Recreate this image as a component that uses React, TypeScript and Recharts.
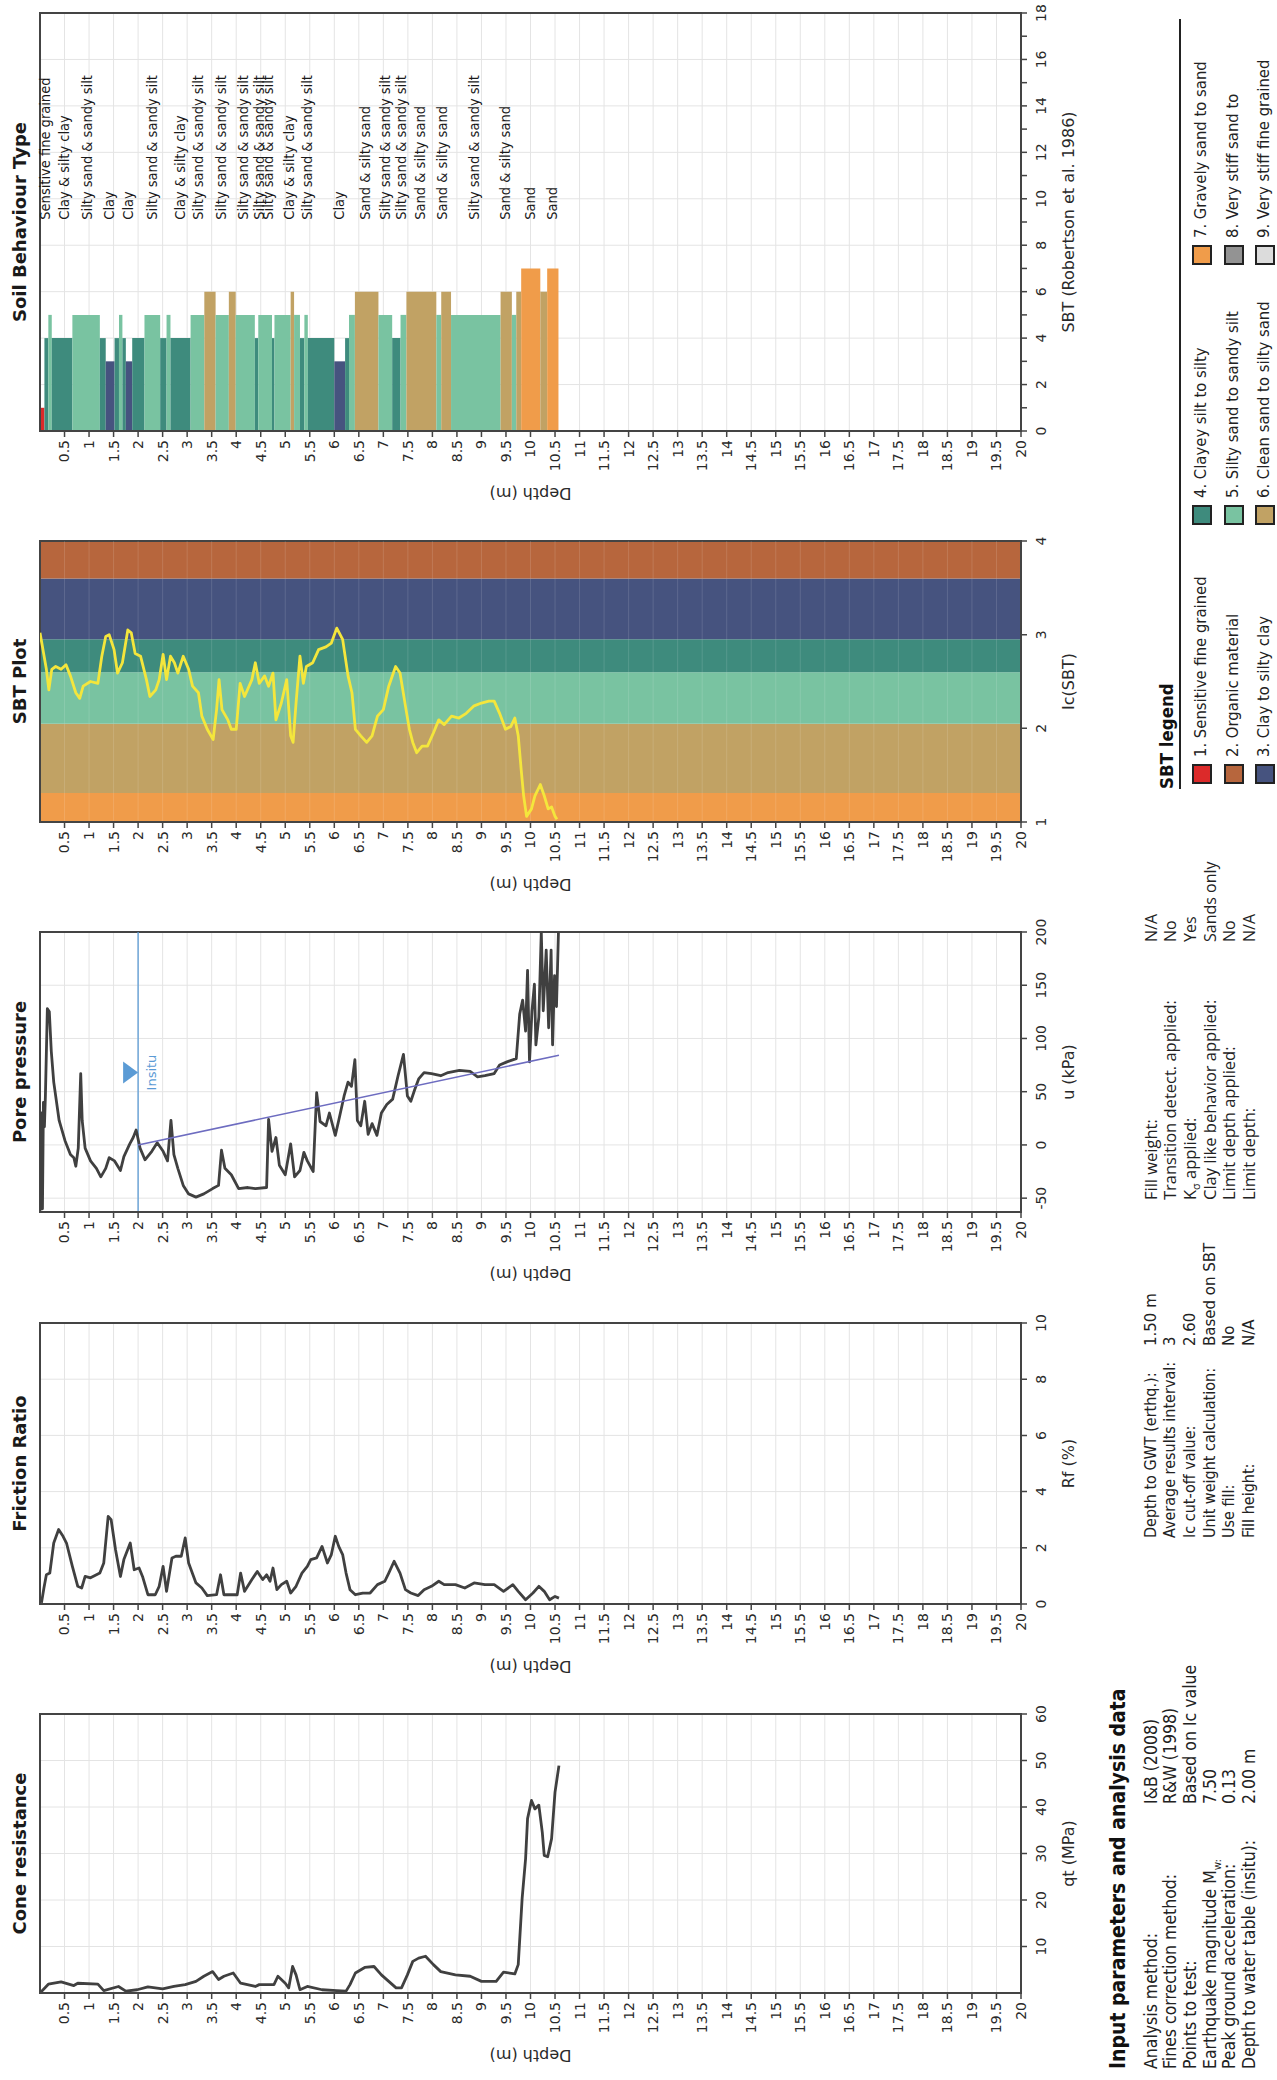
import React from 'react';
import {
  LineChart,
  Line,
  XAxis,
  YAxis,
  CartesianGrid,
  ReferenceArea,
  ReferenceLine,
  ReferenceDot,
} from 'recharts';

// ---------------- DATA ----------------
const depthTicks = [0.5, 1, 1.5, 2, 2.5, 3, 3.5, 4, 4.5, 5, 5.5, 6, 6.5, 7, 7.5, 8, 8.5, 9, 9.5, 10, 10.5, 11, 11.5, 12, 12.5, 13, 13.5, 14, 14.5, 15, 15.5, 16, 16.5, 17, 17.5, 18, 18.5, 19, 19.5, 20];

// Cone resistance qt (MPa)
const coneDepth = [0, 0.17, 0.43, 0.69, 0.77, 1.18, 1.3, 1.6, 1.75, 1.98,
  2.2, 2.5, 2.73, 2.96, 3.18, 3.34, 3.52, 3.64, 3.75, 3.94,
  4.09, 4.39, 4.47, 4.77, 4.85, 5.0, 5.07, 5.15, 5.22, 5.3,
  5.45, 5.75, 6.05, 6.24, 6.32, 6.43, 6.62, 6.81, 6.96, 7.11,
  7.26, 7.37, 7.49, 7.6, 7.72, 7.86, 8.02, 8.17, 8.47, 8.77,
  9.0, 9.3, 9.45, 9.68, 9.75, 9.83, 9.9, 9.94, 10.02, 10.09,
  10.17, 10.24, 10.28, 10.35, 10.43, 10.5, 10.58];
const coneQt = [0, 1.9, 2.4, 1.6, 2.1, 1.9, 0.5, 1.4, 0.4, 0.7,
  1.3, 0.9, 1.4, 1.8, 2.5, 3.6, 4.6, 2.9, 3.6, 4.3,
  2.1, 1.4, 1.8, 1.8, 3.6, 2.1, 1.1, 5.7, 3.9, 0.7,
  1.4, 0.7, 0.5, 0.4, 1.8, 4.3, 5.5, 5.7, 3.9, 2.5,
  1.1, 1.1, 3.9, 6.8, 7.5, 7.9, 6.1, 4.6, 3.9, 3.6,
  2.5, 2.5, 4.5, 4.1, 6.1, 20.4, 28.9, 37.5, 41.4, 39.6,
  40.4, 34.6, 29.6, 29.3, 33.2, 43.2, 48.9];

// Friction ratio Rf (%)
const frictionDepth = [0.03, 0.08, 0.13, 0.2, 0.28, 0.38, 0.47, 0.54, 0.66, 0.77,
  0.85, 0.92, 1.03, 1.22, 1.3, 1.39, 1.45, 1.54, 1.64, 1.71,
  1.84, 1.92, 2.02, 2.09, 2.2, 2.35, 2.43, 2.51, 2.58, 2.69,
  2.77, 2.88, 2.96, 3.03, 3.18, 3.3, 3.41, 3.6, 3.68, 3.75,
  4.02, 4.09, 4.17, 4.32, 4.43, 4.54, 4.62, 4.69, 4.75, 4.83,
  4.92, 5.03, 5.11, 5.22, 5.34, 5.45, 5.52, 5.64, 5.75, 5.86,
  5.94, 6.02, 6.09, 6.17, 6.24, 6.32, 6.43, 6.58, 6.73, 6.88,
  7.03, 7.11, 7.22, 7.34, 7.45, 7.56, 7.71, 7.83, 7.98, 8.13,
  8.24, 8.47, 8.66, 8.85, 9.07, 9.26, 9.45, 9.64, 9.75, 9.9,
  10.05, 10.17, 10.28, 10.39, 10.5, 10.58];
const frictionRf = [0.04, 0.57, 1.04, 1.1, 2.17, 2.65, 2.41, 2.17, 1.34, 0.63,
  0.57, 0.98, 0.93, 1.1, 1.46, 3.12, 3.0, 1.93, 0.98, 1.58,
  2.17, 1.22, 1.28, 0.98, 0.33, 0.33, 0.63, 1.34, 0.45, 1.64,
  1.7, 1.7, 2.35, 1.46, 0.75, 0.57, 0.3, 0.33, 1.04, 0.33,
  0.33, 1.1, 0.45, 0.87, 1.16, 0.87, 1.04, 0.81, 1.28, 0.51,
  0.69, 0.81, 0.39, 0.63, 1.1, 1.34, 1.58, 1.64, 2.05, 1.46,
  1.76, 2.41, 2.05, 1.76, 1.1, 0.51, 0.33, 0.39, 0.39, 0.69,
  0.81, 1.1, 1.52, 1.1, 0.51, 0.39, 0.3, 0.51, 0.63, 0.81,
  0.69, 0.69, 0.57, 0.75, 0.69, 0.69, 0.45, 0.69, 0.45, 0.15,
  0.39, 0.63, 0.45, 0.15, 0.27, 0.21];

// Pore pressure u (kPa)
const poreDepth = [0, 0.03, 0.05, 0.07, 0.09, 0.11, 0.15, 0.19, 0.23, 0.28,
  0.39, 0.51, 0.62, 0.69, 0.73, 0.78, 0.83, 0.86, 0.92, 1.03,
  1.15, 1.24, 1.34, 1.41, 1.52, 1.64, 1.71, 1.83, 1.9, 1.96,
  2.04, 2.14, 2.28, 2.39, 2.51, 2.6, 2.67, 2.73, 2.81, 2.92,
  3.03, 3.18, 3.34, 3.52, 3.64, 3.7, 3.77, 3.9, 4.05, 4.24,
  4.39, 4.62, 4.66, 4.73, 4.81, 4.88, 5.0, 5.11, 5.19, 5.3,
  5.38, 5.45, 5.57, 5.64, 5.71, 5.83, 5.9, 6.02, 6.09, 6.2,
  6.28, 6.35, 6.42, 6.47, 6.54, 6.62, 6.69, 6.77, 6.87, 6.96,
  7.07, 7.19, 7.3, 7.41, 7.49, 7.56, 7.64, 7.72, 7.83, 7.98,
  8.17, 8.32, 8.55, 8.77, 8.92, 9.07, 9.26, 9.37, 9.52, 9.71,
  9.78, 9.84, 9.9, 9.94, 9.98, 10.03, 10.08, 10.11, 10.17, 10.22,
  10.26, 10.32, 10.37, 10.42, 10.45, 10.49, 10.53, 10.57];
const poreU = [-63, 30, -60, 40, 17, 46, 128, 125, 88, 59,
  23, 4, -9, -12, -20, -3, 67, 23, -3, -15,
  -22, -30, -22, -12, -15, -24, -11, 1, 7, 14,
  -3, -14, -6, 2, -6, -15, 23, -9, -22, -38,
  -46, -49, -46, -41, -38, -5, -22, -28, -41, -40,
  -41, -40, 24, -6, 7, -19, -28, 1, -30, -24,
  -7, -15, -25, 49, 22, 18, 30, 9, 23, 46,
  59, 55, 80, 23, 18, 41, 10, 20, 9, 30,
  38, 43, 65, 85, 46, 41, 52, 62, 68, 67,
  65, 68, 70, 69, 64, 65, 67, 75, 78, 81,
  123, 136, 107, 164, 78, 126, 151, 94, 120, 200,
  126, 183, 110, 183, 94, 159, 130, 200];
const hydroDepth = [2.0, 10.58];
const hydroU = [0, 84.2];
const WATER_TABLE_DEPTH = 2.0;
const WATER_MARK_U = 68;

// SBT plot Ic
const icDepth = [0, 0.05, 0.13, 0.18, 0.24, 0.32, 0.43, 0.53, 0.62, 0.73,
  0.81, 0.88, 1.03, 1.18, 1.26, 1.34, 1.41, 1.51, 1.58, 1.68,
  1.79, 1.86, 1.94, 2.05, 2.17, 2.24, 2.36, 2.43, 2.51, 2.58,
  2.66, 2.74, 2.81, 2.92, 3.03, 3.11, 3.23, 3.3, 3.41, 3.53,
  3.6, 3.65, 3.71, 3.83, 3.9, 4.0, 4.08, 4.17, 4.32, 4.39,
  4.47, 4.58, 4.66, 4.75, 4.81, 4.92, 5.03, 5.11, 5.16, 5.22,
  5.3, 5.37, 5.43, 5.56, 5.68, 5.83, 5.94, 6.05, 6.17, 6.28,
  6.36, 6.43, 6.54, 6.66, 6.77, 6.88, 7.0, 7.11, 7.25, 7.34,
  7.45, 7.53, 7.6, 7.68, 7.79, 7.9, 8.02, 8.13, 8.24, 8.39,
  8.54, 8.69, 8.85, 9.0, 9.15, 9.26, 9.37, 9.49, 9.6, 9.68,
  9.75, 9.81, 9.86, 9.92, 10.02, 10.09, 10.2, 10.28, 10.36, 10.43,
  10.5, 10.54];
const icValue = [3.02, 2.87, 2.63, 2.41, 2.63, 2.66, 2.63, 2.68, 2.56, 2.38,
  2.32, 2.45, 2.5, 2.48, 2.77, 2.98, 3.0, 2.84, 2.59, 2.7,
  3.05, 3.02, 2.8, 2.77, 2.52, 2.34, 2.41, 2.52, 2.79, 2.52,
  2.77, 2.7, 2.59, 2.77, 2.63, 2.45, 2.38, 2.13, 1.99, 1.88,
  2.2, 2.52, 2.2, 2.09, 1.99, 1.99, 2.48, 2.34, 2.52, 2.7,
  2.48, 2.56, 2.45, 2.59, 2.09, 2.27, 2.52, 1.92, 1.85, 2.27,
  2.77, 2.48, 2.66, 2.7, 2.84, 2.87, 2.91, 3.07, 2.95, 2.56,
  2.38, 1.99, 1.92, 1.85, 1.92, 2.13, 2.2, 2.45, 2.66, 2.59,
  2.24, 1.99, 1.85, 1.74, 1.81, 1.81, 1.95, 2.09, 2.04, 2.13,
  2.11, 2.16, 2.24, 2.27, 2.29, 2.29, 2.16, 1.99, 2.02, 2.11,
  1.92, 1.56, 1.28, 1.06, 1.14, 1.28, 1.4, 1.28, 1.14, 1.16,
  1.06, 1.03];
const icBounds = [1, 1.31, 2.05, 2.6, 2.95, 3.6, 4];
const icBandZones = [7, 6, 5, 4, 3, 2];

// Soil behaviour type (Robertson 1986) layers
const sbtTop = [0, 0.09, 0.17, 0.24, 0.66, 1.22, 1.34, 1.52, 1.61, 1.68,
  1.75, 1.88, 2.13, 2.45, 2.58, 2.66, 3.07, 3.35, 3.58, 3.85,
  3.99, 4.38, 4.45, 4.73, 4.78, 5.11, 5.18, 5.3, 5.39, 5.46,
  6.0, 6.22, 6.3, 6.42, 6.9, 7.18, 7.35, 7.47, 8.08, 8.18,
  8.38, 9.39, 9.62, 9.71, 9.81, 10.2, 10.34];
const sbtZone = [1, 4, 5, 4, 5, 4, 3, 4, 5, 4,
  3, 4, 5, 4, 5, 4, 5, 6, 5, 6,
  5, 4, 5, 4, 5, 6, 5, 4, 5, 4,
  3, 4, 5, 6, 5, 4, 5, 6, 5, 6,
  5, 6, 5, 6, 7, 6, 7];
const SBT_END_DEPTH = 10.57;

const sbtLabelDepth = [0.11, 0.48, 0.96, 1.41, 1.79, 2.28, 2.85, 3.22, 3.68, 4.13,
  4.47, 4.65, 5.07, 5.45, 6.09, 6.62, 7.03, 7.37, 7.75, 8.2,
  8.85, 9.49, 9.98, 10.43];
const sbtLabelText = ['Sensitive fine grained', 'Clay & silty clay', 'Silty sand & sandy silt', 'Clay', 'Clay',
  'Silty sand & sandy silt', 'Clay & silty clay', 'Silty sand & sandy silt', 'Silty sand & sandy silt', 'Silty sand & sandy silt',
  'Silty sand & sandy silt', 'Silty sand & sandy silt', 'Clay & silty clay', 'Silty sand & sandy silt', 'Clay',
  'Sand & silty sand', 'Silty sand & sandy silt', 'Silty sand & sandy silt', 'Sand & silty sand', 'Sand & silty sand',
  'Silty sand & sandy silt', 'Sand & silty sand', 'Sand', 'Sand'];

const zoneColors = ['#dc2a2a', '#b7663d', '#46537f', '#3e8b7d', '#79c3a1', '#c1a264', '#f09c4a', '#939393', '#dcdcdc'];
const zoneNames = ['1. Sensitive fine grained', '2. Organic material', '3. Clay to silty clay',
  '4. Clayey silt to silty', '5. Silty sand to sandy silt', '6. Clean sand to silty sand',
  '7. Gravely sand to sand', '8. Very stiff sand to', '9. Very stiff fine grained'];

const coneTicks = [10, 20, 30, 40, 50, 60];
const frictionTicks = [0, 2, 4, 6, 8, 10];
const poreTicks = [-50, 0, 50, 100, 150, 200];
const icTicks = [1, 2, 3, 4];
const sbtTicks = [0, 1, 2, 3, 4, 5, 6, 7, 8, 9, 10, 11, 12, 13, 14, 15, 16, 17, 18];
const sbtGrid = [2, 4, 6, 8, 10, 12, 14, 16];

const params1 = [['Analysis method:', 'I&B (2008)'], ['Fines correction method:', 'R&W (1998)'], ['Points to test:', 'Based on Ic value'], ['Earthquake magnitude M_w:', '7.50'], ['Peak ground acceleration:', '0.13'], ['Depth to water table (insitu):', '2.00 m']];
const params2 = [['Depth to GWT (erthq.):', '1.50 m'], ['Average results interval:', '3'], ['Ic cut-off value:', '2.60'], ['Unit weight calculation:', 'Based on SBT'], ['Use fill:', 'No'], ['Fill height:', 'N/A']];
const params3 = [['Fill weight:', 'N/A'], ['Transition detect. applied:', 'No'], ['K_σ applied:', 'Yes'], ['Clay like behavior applied:', 'Sands only'], ['Limit depth applied:', 'No'], ['Limit depth:', 'N/A']];

// ---------------- LAYOUT ----------------
const PAGE_W = 2080;
const PAGE_H = 1277;
const PLOT_TOP = 40;
const PLOT_BOTTOM = 1021;
const CHART_H = 1100;
const AXIS_W = 120;
const RIGHT_PAD = 20;
const SANS = '"DejaVu Sans", Verdana, sans-serif';
const NARROW = '"Liberation Sans Narrow", "DejaVu Sans Condensed", "Arial Narrow", sans-serif';
const OPEN = '"Open Sans", "Noto Sans", sans-serif';

const zip = (ds: number[], vs: number[]) => ds.map((d, i) => ({ d, v: vs[i] }));

function Panel(props: any) {
  const { left, width, title, xDomain, xTicks, xLabel, tickFmt, gridX, children } = props;
  const w = AXIS_W + width + RIGHT_PAD;
  return (
    <div>
      <div style={{ position: 'absolute', left, top: 9, width, textAlign: 'center', fontFamily: SANS, fontWeight: 'bold', fontSize: 18, lineHeight: '22px', color: '#1a1a1a', whiteSpace: 'nowrap' }}>{title}</div>
      <div style={{ position: 'absolute', left: left - AXIS_W, top: 0 }}>
        <LineChart layout="vertical" width={w} height={CHART_H} margin={{ top: PLOT_TOP, right: RIGHT_PAD, bottom: 0, left: 0 }}>
          <CartesianGrid stroke="#e4e4e4" strokeWidth={1} verticalValues={gridX} />
          <XAxis
            type="number"
            domain={xDomain}
            ticks={xTicks}
            interval={0}
            allowDataOverflow
            height={CHART_H - PLOT_BOTTOM}
            tickSize={6}
            tickMargin={9}
            tickFormatter={tickFmt}
            tick={{ fontSize: 14, fill: '#2a2a2a', fontFamily: SANS }}
            tickLine={{ stroke: '#444', strokeWidth: 1.5 }}
            axisLine={{ stroke: '#444', strokeWidth: 2 }}
            label={{ value: xLabel, position: 'insideBottom', offset: 26, fontSize: 16, fill: '#2a2a2a', fontFamily: SANS }}
          />
          <YAxis
            type="number"
            dataKey="d"
            domain={[0, 20]}
            ticks={depthTicks}
            interval={0}
            allowDataOverflow
            width={AXIS_W}
            tickSize={6}
            tickMargin={3}
            tick={{ fontSize: 14, fill: '#2a2a2a', fontFamily: SANS }}
            tickLine={{ stroke: '#444', strokeWidth: 1.5 }}
            axisLine={{ stroke: '#444', strokeWidth: 2 }}
            label={{ value: 'Depth (m)', angle: -90, position: 'center', dx: -3, fontSize: 16, fill: '#2a2a2a', fontFamily: SANS }}
          />
          {children}
          <ReferenceArea x1={xDomain[0]} x2={xDomain[1]} y1={0} y2={20} fill="none" stroke="#444" strokeWidth={2} ifOverflow="visible" />
        </LineChart>
      </div>
    </div>
  );
}

function ParamRows({ rows, labelLeft, valueLeft, labelFont, valueFont, labelSize, valueSize }: any) {
  const rowY = [1151, 1170, 1190, 1210, 1229, 1249];
  return (
    <div>
      {rows.map((r: string[], i: number) => {
        const parts = r[0].split('_');
        return (
          <div key={i}>
            <div style={{ position: 'absolute', left: labelLeft, top: rowY[i] - 10, lineHeight: '20px', fontFamily: labelFont, fontSize: labelSize, color: '#222', whiteSpace: 'nowrap' }}>
              {parts.length > 1 ? (
                <span>{parts[0]}<sub style={{ fontSize: '0.65em' }}>{parts[1].split(' ')[0]}</sub>{parts[1].slice(parts[1].split(' ')[0].length)}</span>
              ) : r[0]}
            </div>
            <div style={{ position: 'absolute', left: valueLeft, top: rowY[i] - 10, lineHeight: '20px', fontFamily: valueFont, fontSize: valueSize, color: '#222', whiteSpace: 'nowrap' }}>{r[1]}</div>
          </div>
        );
      })}
    </div>
  );
}

export default function App() {
  const cone = zip(coneDepth, coneQt);
  const friction = zip(frictionDepth, frictionRf);
  const pore = zip(poreDepth, poreU);
  const hydro = zip(hydroDepth, hydroU);
  const ic = zip(icDepth, icValue);

  const legendCols = [[0, 1, 2], [3, 4, 5], [6, 7, 8]];
  const legendSwatchX = [1296, 1555, 1815];
  const legendRowY = [1201, 1233, 1264];

  return (
    <div style={{ position: 'absolute', left: 0, top: 0, width: PAGE_W, height: PAGE_H, background: '#fff', transformOrigin: '0 0', transform: `translate(0px, ${PAGE_W}px) rotate(-90deg)`, overflow: 'hidden' }}>
      <Panel left={87} width={279} title="Cone resistance" xDomain={[0, 60]} xTicks={coneTicks} xLabel="qt (MPa)">
        <Line data={cone} dataKey="v" stroke="#404040" strokeWidth={2.8} dot={false} activeDot={false} isAnimationActive={false} strokeLinejoin="round" />
      </Panel>

      <Panel left={476} width={281} title="Friction Ratio" xDomain={[0, 10]} xTicks={frictionTicks} xLabel="Rf (%)">
        <Line data={friction} dataKey="v" stroke="#404040" strokeWidth={2.8} dot={false} activeDot={false} isAnimationActive={false} strokeLinejoin="round" />
      </Panel>

      <Panel left={868} width={280} title="Pore pressure" xDomain={[-63, 200]} xTicks={poreTicks} xLabel="u (kPa)">
        <ReferenceLine y={WATER_TABLE_DEPTH} stroke="#5b9bd5" strokeWidth={1.3} ifOverflow="visible" />
        <Line data={pore} dataKey="v" stroke="#404040" strokeWidth={2.8} dot={false} activeDot={false} isAnimationActive={false} strokeLinejoin="round" />
        <Line data={hydro} dataKey="v" stroke="#6d6cc0" strokeWidth={1.6} dot={false} activeDot={false} isAnimationActive={false} />
        <ReferenceDot
          x={WATER_MARK_U}
          y={WATER_TABLE_DEPTH}
          r={0}
          ifOverflow="visible"
          shape={(p: any) => (
            <g>
              <polygon points={`${p.cx - 11},${p.cy - 15} ${p.cx + 11},${p.cy - 15} ${p.cx},${p.cy}`} fill="#5b9bd5" />
              <text x={p.cx} y={p.cy + 18} textAnchor="middle" fontSize={13} fill="#5b9bd5" fontFamily={SANS}>Insitu</text>
            </g>
          )}
        />
      </Panel>

      <Panel left={1258} width={281} title="SBT Plot" xDomain={[1, 4]} xTicks={icTicks} xLabel="Ic(SBT)">
        {icBandZones.map((z, i) => (
          <ReferenceArea key={'b' + i} x1={icBounds[i]} x2={icBounds[i + 1]} y1={0} y2={20} fill={zoneColors[z - 1]} fillOpacity={1} stroke="none" />
        ))}
        {depthTicks.map((t) => (
          <ReferenceLine key={'g' + t} y={t} stroke="rgba(255,255,255,0.13)" strokeWidth={1} />
        ))}
        <Line data={ic} dataKey="v" stroke="#f4e63c" strokeWidth={2.8} dot={false} activeDot={false} isAnimationActive={false} strokeLinejoin="round" />
      </Panel>

      <Panel left={1649} width={418} title="Soil Behaviour Type" xDomain={[0, 18]} xTicks={sbtTicks} gridX={sbtGrid} tickFmt={(v: number) => (v % 2 === 0 ? String(v) : '')} xLabel="SBT (Robertson et al. 1986)">
        {sbtTop.map((top, i) => (
          <ReferenceArea key={'s' + i} x1={0} x2={sbtZone[i]} y1={top} y2={i + 1 < sbtTop.length ? sbtTop[i + 1] : SBT_END_DEPTH} fill={zoneColors[sbtZone[i] - 1]} fillOpacity={1} stroke="none" />
        ))}
        {sbtLabelDepth.map((d, i) => (
          <ReferenceDot
            key={'l' + i}
            x={9.1}
            y={d}
            r={0}
            ifOverflow="visible"
            shape={(p: any) => (
              <text x={p.cx} y={p.cy} dominantBaseline="central" fontSize={14.5} fill="#1a1a1a" fontFamily={NARROW}>{sbtLabelText[i]}</text>
            )}
          />
        ))}
      </Panel>

      {/* Input parameters */}
      <div style={{ position: 'absolute', left: 11, top: 1105, lineHeight: '26px', fontFamily: NARROW, fontWeight: 'bold', fontSize: 21, color: '#111', whiteSpace: 'nowrap' }}>Input parameters and analysis data</div>
      <ParamRows rows={params1} labelLeft={11} valueLeft={276} labelFont={NARROW} valueFont={NARROW} labelSize={17.5} valueSize={17.5} />
      <ParamRows rows={params2} labelLeft={542} valueLeft={734} labelFont={NARROW} valueFont={SANS} labelSize={16} valueSize={15} />
      <ParamRows rows={params3} labelLeft={880} valueLeft={1138} labelFont={OPEN} valueFont={OPEN} labelSize={16.5} valueSize={16} />

      {/* SBT legend */}
      <div style={{ position: 'absolute', left: 1291, top: 1155, lineHeight: '24px', fontFamily: NARROW, fontWeight: 'bold', fontSize: 18.5, color: '#111', whiteSpace: 'nowrap' }}>SBT legend</div>
      <div style={{ position: 'absolute', left: 1291, top: 1179, width: 770, height: 2, background: '#222' }} />
      {legendCols.map((col, c) =>
        col.map((z, r) => (
          <div key={'lg' + z}>
            <div style={{ position: 'absolute', left: legendSwatchX[c], top: legendRowY[r] - 9, width: 16, height: 16, background: zoneColors[z], border: '2px solid #222' }} />
            <div style={{ position: 'absolute', left: legendSwatchX[c] + 27, top: legendRowY[r] - 11, lineHeight: '22px', fontFamily: NARROW, fontSize: 16.5, color: '#222', whiteSpace: 'nowrap' }}>{zoneNames[z]}</div>
          </div>
        ))
      )}
    </div>
  );
}
